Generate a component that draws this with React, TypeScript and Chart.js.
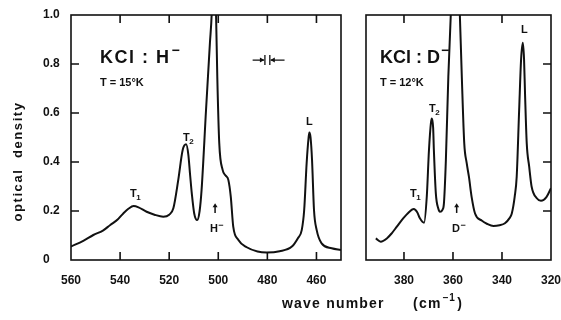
import React, { useEffect, useRef } from "react";
import { Chart, registerables } from "chart.js";

Chart.register(...registerables);

// ---- data: KCl:H- panel (wave number in cm^-1, optical density) ----
const H_WAVE = [560, 555, 550.9, 547, 544, 541, 538.7, 536.5, 534.5, 532.5, 529.2, 526, 522.4, 520, 518.3, 516.3, 514.5, 513.1, 512.2, 511.5, 510.8, 509.8, 508.6, 507.6, 506.8, 505, 503.4, 502.7, 501.8, 500.9, 500.4, 499.6, 498.2, 497, 495.9, 494.9, 493.9, 491.8, 488.4, 484, 480.3, 475, 470, 467.5, 466, 465, 464, 463.2, 462.9, 462.4, 461.8, 461, 459.9, 457.9, 453.8, 450];
const H_OD = [0.055, 0.078, 0.102, 0.12, 0.143, 0.165, 0.19, 0.21, 0.22, 0.215, 0.197, 0.185, 0.177, 0.185, 0.211, 0.327, 0.449, 0.472, 0.43, 0.35, 0.273, 0.19, 0.163, 0.2, 0.286, 0.61, 0.886, 1.0, 1.3, 1.0, 0.748, 0.477, 0.367, 0.345, 0.327, 0.258, 0.136, 0.082, 0.052, 0.035, 0.031, 0.036, 0.055, 0.09, 0.122, 0.204, 0.395, 0.5, 0.52, 0.5, 0.408, 0.204, 0.122, 0.068, 0.048, 0.041];

// ---- data: KCl:D- panel ----
const D_WAVE = [391.5, 389.5, 387, 385, 383, 380.9, 378.5, 376, 374.6, 373.5, 371.8, 370.7, 369.8, 369, 368.6, 368.1, 367.8, 367, 366, 365.3, 364.3, 363.7, 362.9, 361.9, 360.9, 359, 357.2, 356.4, 355.4, 354.4, 353.5, 352.4, 351, 348.3, 346, 343.5, 341, 338.8, 337, 336, 334.8, 334, 333, 332.2, 331.5, 331, 330.6, 329.9, 328.9, 327.9, 325.8, 324.1, 321.8, 320];
const D_OD = [0.088, 0.075, 0.088, 0.109, 0.135, 0.163, 0.19, 0.208, 0.195, 0.17, 0.152, 0.258, 0.449, 0.56, 0.578, 0.54, 0.449, 0.272, 0.21, 0.197, 0.205, 0.231, 0.408, 0.748, 1.0, 1.4, 1.0, 0.748, 0.476, 0.395, 0.34, 0.258, 0.19, 0.161, 0.147, 0.139, 0.142, 0.15, 0.17, 0.19, 0.26, 0.34, 0.612, 0.82, 0.887, 0.82, 0.68, 0.476, 0.381, 0.299, 0.252, 0.242, 0.258, 0.293];

// ---- ticks ----
const H_X_TICKS = [560, 540, 520, 500, 480, 460];
const D_X_TICKS = [380, 360, 340, 320];
const Y_TICKS = [0, 0.2, 0.4, 0.6, 0.8, 1.0];
const H_TOP_MARKS = [540, 520, 500, 480, 460];
const H_BOTTOM_MARKS = [540, 520, 500, 480, 460];
const H_LEFT_MARKS = [0.2, 0.4, 0.6, 0.8];
const D_TOP_MARKS = [380, 340];
const D_BOTTOM_MARKS = [380, 360, 340];
const D_RIGHT_MARKS = [0.2, 0.4, 0.6, 0.8];

const INK = "#111";
const FAM = '"Liberation Sans", Arial, sans-serif';

function txt(ctx: any, s: string, x: number, y: number, font: string, spacing = 0, align = "left") {
  ctx.font = font;
  ctx.letterSpacing = spacing + "px";
  ctx.textAlign = align;
  ctx.textBaseline = "alphabetic";
  ctx.fillText(s, x, y);
  const w = ctx.measureText(s).width;
  ctx.letterSpacing = "0px";
  return w;
}

function subLabel(ctx: any, main: string, sub: string, x: number, y: number) {
  const w = txt(ctx, main, x, y, `bold 11px ${FAM}`);
  txt(ctx, sub, x + w - 0.5, y + 3, `bold 8px ${FAM}`);
}

function ionLabel(ctx: any, main: string, x: number, y: number) {
  const w = txt(ctx, main, x, y, `bold 11px ${FAM}`);
  txt(ctx, "\u2212", x + w + 0.5, y - 4, `bold 9px ${FAM}`);
}

function upArrow(ctx: any, x: number, y0: number, y1: number) {
  ctx.beginPath();
  ctx.lineWidth = 1.5;
  ctx.moveTo(x, y0);
  ctx.lineTo(x, y1 + 3);
  ctx.stroke();
  ctx.beginPath();
  ctx.moveTo(x, y1);
  ctx.lineTo(x - 2.5, y1 + 4);
  ctx.lineTo(x + 2.5, y1 + 4);
  ctx.closePath();
  ctx.fill();
}

function framePlugin(marks: { top: number[]; bottom: number[]; left: number[]; right: number[] }, draw: (ctx: any, xs: any, ys: any, a: any) => void) {
  return {
    id: "frame",
    afterDatasetsDraw(chart: any) {
      const { ctx, chartArea: a, scales } = chart;
      const xs = scales.x;
      const ys = scales.y;
      ctx.save();
      ctx.strokeStyle = INK;
      ctx.fillStyle = INK;
      ctx.lineWidth = 1.6;
      ctx.strokeRect(a.left, a.top, a.right - a.left, a.bottom - a.top);
      const L = 8;
      ctx.beginPath();
      marks.bottom.forEach((v) => {
        const p = xs.getPixelForValue(v);
        ctx.moveTo(p, a.bottom);
        ctx.lineTo(p, a.bottom - L);
      });
      marks.top.forEach((v) => {
        const p = xs.getPixelForValue(v);
        ctx.moveTo(p, a.top);
        ctx.lineTo(p, a.top + L);
      });
      marks.left.forEach((v) => {
        const p = ys.getPixelForValue(v);
        ctx.moveTo(a.left, p);
        ctx.lineTo(a.left + L, p);
      });
      marks.right.forEach((v) => {
        const p = ys.getPixelForValue(v);
        ctx.moveTo(a.right, p);
        ctx.lineTo(a.right - L, p);
      });
      ctx.stroke();
      draw(ctx, xs, ys, a);
      ctx.restore();
    },
  };
}

function drawH(ctx: any, xs: any, ys: any) {
  const X = (v: number) => xs.getPixelForValue(v);
  const Y = (v: number) => ys.getPixelForValue(v);
  // title
  const w = txt(ctx, "KCl : H", X(548.2), Y(0.804), `bold 18px ${FAM}`, 1.5);
  txt(ctx, "\u2212", X(548.2) + w + 1, Y(0.804) - 8, `bold 14px ${FAM}`);
  txt(ctx, "T = 15\u00b0K", X(548.2), Y(0.71), `bold 11px ${FAM}`);
  subLabel(ctx, "T", "1", X(536), Y(0.257));
  subLabel(ctx, "T", "2", X(514.4), Y(0.486));
  txt(ctx, "L", X(464.3), Y(0.551), `bold 11px ${FAM}`);
  upArrow(ctx, X(501.3), Y(0.192), Y(0.232));
  ionLabel(ctx, "H", X(503.4), Y(0.114));
  // resolution marker
  const yy = Y(0.816);
  const b1 = X(481);
  const b2 = X(479);
  const t1 = X(486);
  const t2 = X(473);
  ctx.lineWidth = 1.3;
  ctx.beginPath();
  ctx.moveTo(t1, yy);
  ctx.lineTo(b1 - 1, yy);
  ctx.moveTo(t2, yy);
  ctx.lineTo(b2 + 1, yy);
  ctx.moveTo(b1, yy - 5);
  ctx.lineTo(b1, yy + 5);
  ctx.moveTo(b2, yy - 5);
  ctx.lineTo(b2, yy + 5);
  ctx.stroke();
  ctx.beginPath();
  ctx.moveTo(b1 - 0.5, yy);
  ctx.lineTo(b1 - 5, yy - 2.5);
  ctx.lineTo(b1 - 5, yy + 2.5);
  ctx.closePath();
  ctx.moveTo(b2 + 0.5, yy);
  ctx.lineTo(b2 + 5, yy - 2.5);
  ctx.lineTo(b2 + 5, yy + 2.5);
  ctx.closePath();
  ctx.fill();
  // y axis title
  ctx.save();
  ctx.translate(19, 161.5);
  ctx.rotate(-Math.PI / 2);
  txt(ctx, "optical  density", 0, 3, `bold 13px ${FAM}`, 1.6, "center");
  ctx.restore();
}

function drawD(ctx: any, xs: any, ys: any) {
  const X = (v: number) => xs.getPixelForValue(v);
  const Y = (v: number) => ys.getPixelForValue(v);
  const w = txt(ctx, "KCl : D", X(389.8), Y(0.804), `bold 18px ${FAM}`, 0);
  txt(ctx, "\u2212", X(389.8) + w + 1, Y(0.804) - 8, `bold 14px ${FAM}`);
  txt(ctx, "T = 12\u00b0K", X(389.8), Y(0.71), `bold 11px ${FAM}`);
  subLabel(ctx, "T", "1", X(377.5), Y(0.257));
  subLabel(ctx, "T", "2", X(369.8), Y(0.604));
  txt(ctx, "L", X(332.2), Y(0.927), `bold 11px ${FAM}`);
  upArrow(ctx, X(358.5), Y(0.192), Y(0.232));
  ionLabel(ctx, "D", X(360.4), Y(0.114));
  // shared x-axis title
  txt(ctx, "wave number", 282, 308, `bold 14px ${FAM}`, 1.2);
  const w2 = txt(ctx, "(cm", 413, 308, `bold 14px ${FAM}`, 1.3);
  const w3 = txt(ctx, "\u22121", 413 + w2 + 1, 301, `bold 10px ${FAM}`, 0.5);
  txt(ctx, ")", 413 + w2 + w3 + 3, 308, `bold 14px ${FAM}`);
}

function makeConfig(
  wave: number[],
  od: number[],
  xMin: number,
  xMax: number,
  xTicks: number[],
  padding: any,
  showY: boolean,
  plugin: any
): any {
  return {
    type: "line",
    data: {
      datasets: [
        {
          data: wave.map((x, i) => ({ x, y: od[i] })),
          borderColor: INK,
          borderWidth: 2,
          pointRadius: 0,
          fill: false,
          cubicInterpolationMode: "monotone",
        },
      ],
    },
    options: {
      animation: false,
      responsive: false,
      maintainAspectRatio: false,
      events: [],
      layout: { padding },
      plugins: { legend: { display: false }, tooltip: { enabled: false } },
      scales: {
        x: {
          type: "linear",
          reverse: true,
          min: xMin,
          max: xMax,
          grid: { display: false, drawTicks: false },
          border: { display: false },
          ticks: {
            color: INK,
            font: { family: FAM, size: 12, weight: "bold" },
            padding: 13,
            maxRotation: 0,
            autoSkip: false,
          },
          afterBuildTicks: (s: any) => {
            s.ticks = xTicks.map((v) => ({ value: v }));
          },
          afterFit: (s: any) => {
            s.height = 60;
            s.paddingLeft = 0;
            s.paddingRight = 0;
          },
        },
        y: {
          display: showY,
          min: 0,
          max: 1,
          grid: { display: false, drawTicks: false },
          border: { display: false },
          ticks: {
            display: showY,
            color: INK,
            font: { family: FAM, size: 12, weight: "bold" },
            padding: 0,
            crossAlign: "far",
            callback: (v: any) => (Number(v) === 0 ? "0" : Number(v).toFixed(1)),
          },
          afterBuildTicks: (s: any) => {
            s.ticks = Y_TICKS.map((v) => ({ value: v }));
          },
          afterFit: (s: any) => {
            s.width = showY ? 28 : 0;
            s.paddingTop = 0;
            s.paddingBottom = 0;
          },
        },
      },
    },
    plugins: [plugin],
  };
}

export default function App() {
  const ref1 = useRef<HTMLCanvasElement>(null);
  const ref2 = useRef<HTMLCanvasElement>(null);
  useEffect(() => {
    document.body.style.margin = "0";
    const c1 = new Chart(
      ref1.current as HTMLCanvasElement,
      makeConfig(
        H_WAVE,
        H_OD,
        450,
        560,
        H_X_TICKS,
        { left: 43, top: 15, right: 220, bottom: 0 },
        true,
        framePlugin({ top: H_TOP_MARKS, bottom: H_BOTTOM_MARKS, left: H_LEFT_MARKS, right: [] }, drawH)
      )
    );
    const c2 = new Chart(
      ref2.current as HTMLCanvasElement,
      makeConfig(
        D_WAVE,
        D_OD,
        320,
        395.5,
        D_X_TICKS,
        { left: 366, top: 15, right: 10, bottom: 0 },
        false,
        framePlugin({ top: D_TOP_MARKS, bottom: D_BOTTOM_MARKS, left: [], right: D_RIGHT_MARKS }, drawD)
      )
    );
    return () => {
      c1.destroy();
      c2.destroy();
    };
  }, []);
  return (
    <div style={{ position: "relative", width: 561, height: 320, background: "#fff" }}>
      <canvas ref={ref1} width={561} height={320} style={{ position: "absolute", left: 0, top: 0 }} />
      <canvas ref={ref2} width={561} height={320} style={{ position: "absolute", left: 0, top: 0 }} />
    </div>
  );
}
